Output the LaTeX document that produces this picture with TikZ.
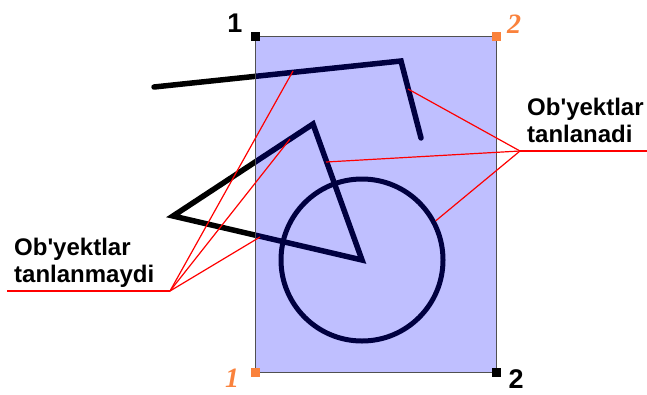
\documentclass[tikz,border=0pt]{standalone}
\usepackage{fontspec}
\setmainfont{Liberation Sans}
\newfontfamily\numserif{Liberation Serif}
\usepackage{tikz}
\usetikzlibrary{positioning}
\definecolor{markorange}{RGB}{250,130,60}
\definecolor{rimgray}{RGB}{80,80,80}

\begin{document}
\begin{tikzpicture}[x=1pt, y=-1pt]
    % Styles
    \tikzstyle{sketch} = [draw=black, line width=5.5pt, line cap=round, line join=miter]
    \tikzstyle{selbox} = [rectangle, draw=rimgray, line width=1pt, fill=blue, fill opacity=0.25, inner sep=0pt, outer sep=0pt]
    \tikzstyle{handle} = [rectangle, minimum size=9pt, inner sep=0pt]
    \tikzstyle{pointer} = [draw=red, line width=1.2pt]
    \tikzstyle{leader} = [draw=red, line width=2pt]
    \tikzstyle{tagtext} = [font=\bfseries\fontsize{24}{27}\selectfont, align=left, inner sep=0pt]
    \tikzstyle{plainnum} = [font=\bfseries\fontsize{27}{27}\selectfont, inner sep=0pt, anchor=base]
    \tikzstyle{slantnum} = [font=\numserif\bfseries\itshape\fontsize{28}{28}\selectfont, text=markorange, inner sep=0pt, anchor=base]

    \useasboundingbox (0,0) rectangle (647,394);

    % --- BICYCLE SKETCH ---
    \coordinate (hbL) at (154,87);
    \coordinate (hbC) at (401,61);
    \coordinate (hbE) at (421,138);
    \coordinate (fT) at (313,124);
    \coordinate (fL) at (173,216);
    \coordinate (fC) at (362,260);
    \path [sketch] (hbL) -- (hbC) -- (hbE);
    \path [sketch] (fT) -- (fL) -- (fC) -- cycle;
    \node [circle, draw=black, line width=5pt, minimum size=162pt, inner sep=0pt] (wheel) at (fC) {};

    % --- SELECTION FRAME ---
    \node [selbox, anchor=north west, minimum width=241pt, minimum height=336pt] (sel) at (255,36) {};

    % --- POINTED SPOTS ---
    \coordinate (hitA) at (293,71);
    \coordinate (hitB) at (290,139);
    \coordinate (hitC) at (260,237);
    \coordinate (hitD) at (408,89);
    \coordinate (hitE) at (326,162);
    \coordinate (outL) at (170,291);
    \coordinate (endL) at (7,291);
    \coordinate (outR) at (520,151);
    \coordinate (endR) at (647,151);

    % --- CONNECTIONS ---
    \path [leader] (endL) -- (outL);
    \path [pointer] (outL) -- (hitA);
    \path [pointer] (outL) -- (hitB);
    \path [pointer] (outL) -- (hitC);
    \path [leader] (outR) -- (endR);
    \path [pointer] (outR) -- (hitD);
    \path [pointer] (outR) -- (hitE);
    \path [pointer] (outR) -- (wheel.28);

    % --- CORNER HANDLES ---
    \node [handle, fill=black] (hNW) at (sel.north west) {};
    \node [handle, fill=markorange] (hNE) at (sel.north east) {};
    \node [handle, fill=markorange] (hSW) at (sel.south west) {};
    \node [handle, fill=black] (hSE) at (sel.south east) {};

    % --- LABELS ---
    \node [plainnum] (numNW) at (235,32) {1};
    \node [slantnum] (numNE) at (514,33) {2};
    \node [slantnum] (numSW) at (232,387) {1};
    \node [plainnum] (numSE) at (516,388) {2};
    \node [tagtext, anchor=base west] (notsel) at (14,282) {Ob\textquotesingle yektlar\\tanlanmaydi};
    \node [tagtext, anchor=base west] (issel) at (527,142) {Ob\textquotesingle yektlar\\tanlanadi};

\end{tikzpicture}
\end{document}
